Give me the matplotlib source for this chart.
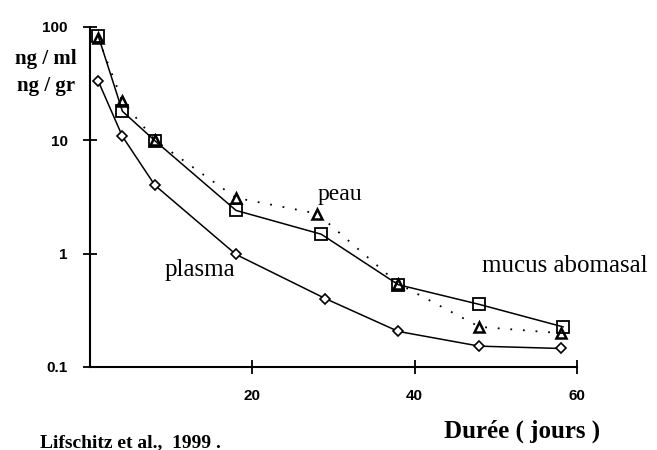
import numpy as np
import matplotlib.pyplot as plt

# plasma (diamants)
jours_plasma = [1, 4, 8, 18, 29, 38, 48, 58]
plasma = [33.5, 10.8, 4.0, 0.98, 0.40, 0.205, 0.152, 0.145]

# mucus abomasal (carres)
jours_mucus = [1, 4, 8, 18, 28.5, 38, 48, 58.3]
mucus = [84, 18.0, 9.9, 2.4, 1.48, 0.53, 0.355, 0.225]

# peau (triangles, pointilles)
jours_peau = [1, 4, 8, 18, 28, 38, 48, 58]
peau = [80, 22, 10.0, 3.1, 2.25, 0.54, 0.225, 0.198]

xticks = [20, 40, 60]
yticks = [0.1, 1, 10, 100]
ylabels = ['0.1', '1', '10', '100']

serif = ['Liberation Serif', 'DejaVu Serif']
sans = ['Liberation Sans', 'DejaVu Sans']

fig = plt.figure(figsize=(6.57, 4.5), dpi=100)
ax = fig.add_axes([0.137, 0.185, 0.741, 0.755])

ax.plot(jours_plasma, plasma, color='black', lw=1.1, marker='D', ms=5,
        mfc='white', mec='black', mew=1.2)
ax.plot(jours_peau, peau, color='black', lw=1.3, ls=(0, (1, 6)), marker='^', ms=7,
        mfc='white', mec='black', mew=1.8)
ax.plot(jours_mucus, mucus, color='black', lw=1.1, marker='s', ms=9,
        mfc='none', mec='black', mew=1.3)

ax.set_yscale('log')
ax.set_xlim(0, 60)
ax.set_ylim(0.1, 100)
ax.set_yticks(yticks)
ax.set_yticklabels(ylabels)
ax.minorticks_off()
ax.set_xticks(xticks)
for s in ['top', 'right']:
    ax.spines[s].set_visible(False)
ax.spines['left'].set_linewidth(1.5)
ax.spines['bottom'].set_linewidth(1.5)
ax.tick_params(axis='both', direction='inout', length=10, width=1.3)
ax.tick_params(axis='y', pad=11)
ax.tick_params(axis='x', pad=11)
for lab in ax.get_xticklabels() + ax.get_yticklabels():
    lab.set_family(sans)
    lab.set_fontweight('bold')
    lab.set_fontsize(11)

ax.text(28, 3.3, 'peau', family=serif, fontsize=17, ha='left', va='center')
ax.text(13.5, 0.72, 'plasma', family=serif, fontsize=18, ha='center', va='center')
ax.text(58.5, 0.78, 'mucus abomasal', family=serif, fontsize=18, ha='center', va='center')

fig.text(46 / 657, 1 - 59 / 450, 'ng / ml', family=serif, fontweight='bold',
         fontsize=15, ha='center', va='center')
fig.text(46 / 657, 1 - 86 / 450, 'ng / gr', family=serif, fontweight='bold',
         fontsize=15, ha='center', va='center')
fig.text(522 / 657, 1 - 431 / 450, 'Durée ( jours )', family=serif, fontweight='bold',
         fontsize=18, ha='center', va='center')
fig.text(130 / 657, 1 - 443 / 450, 'Lifschitz et al.,  1999 .', family=serif,
         fontweight='bold', fontsize=14, ha='center', va='center')

fig.savefig('out.png', dpi=100)
